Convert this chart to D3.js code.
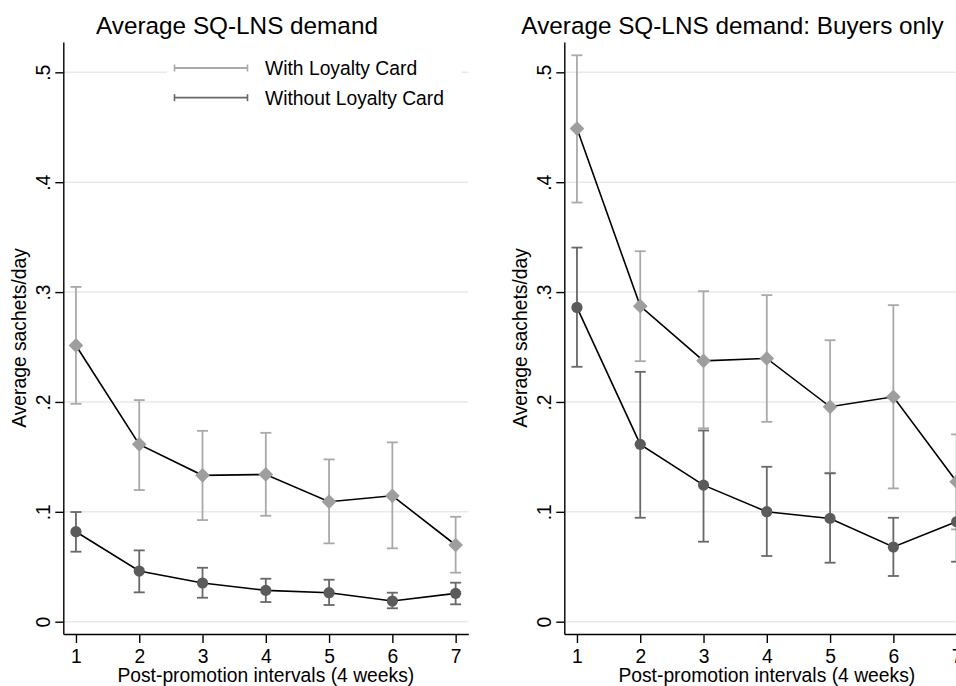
<!DOCTYPE html>
<html>
<head>
<meta charset="utf-8">
<script src="https://cdn.jsdelivr.net/npm/d3@7"></script>
<style>
  body { margin: 0; background: #fff; }
  svg { display: block; }
  text { font-family: "Liberation Sans", Arial, sans-serif; }
</style>
</head>
<body>
<svg id="chart" width="956" height="686"></svg>
<script>
// post-promotion intervals (4 weeks each)
var intervals = [1, 2, 3, 4, 5, 6, 7];
var yTicks = [0, 0.1, 0.2, 0.3, 0.4, 0.5];
var yTickLabels = ['0', '.1', '.2', '.3', '.4', '.5'];
var legendLabels = ['With Loyalty Card', 'Without Loyalty Card'];

// left panel: all households
var allWithMean = [0.2514, 0.1614, 0.1332, 0.1340, 0.1092, 0.1146, 0.0698];
var allWithLo   = [0.1983, 0.1198, 0.0925, 0.0964, 0.0713, 0.0668, 0.0446];
var allWithHi   = [0.3047, 0.2017, 0.1737, 0.1719, 0.1477, 0.1632, 0.0955];
var allWithoutMean = [0.0819, 0.0461, 0.0352, 0.0285, 0.0264, 0.0188, 0.0258];
var allWithoutLo   = [0.0637, 0.0267, 0.0218, 0.0179, 0.0152, 0.0122, 0.0158];
var allWithoutHi   = [0.0998, 0.0649, 0.0491, 0.0391, 0.0382, 0.0264, 0.0355];

// right panel: buyers only
var buyWithMean = [0.4488, 0.2872, 0.2374, 0.2396, 0.1956, 0.2047, 0.1274];
var buyWithLo   = [0.3815, 0.2371, 0.1760, 0.1819, 0.1355, 0.1213, 0.0840];
var buyWithHi   = [0.5155, 0.3372, 0.3008, 0.2972, 0.2562, 0.2881, 0.1705];
var buyWithoutMean = [0.2860, 0.1614, 0.1243, 0.1001, 0.0940, 0.0680, 0.0910];
var buyWithoutLo   = [0.2320, 0.0946, 0.0728, 0.0598, 0.0537, 0.0416, 0.0546];
var buyWithoutHi   = [0.3405, 0.2274, 0.1740, 0.1410, 0.1350, 0.0946, 0.1274];

var withBar = '#a9a9a9', withMark = '#9e9e9e';
var withoutBar = '#686868', withoutMark = '#5b5b5b';
var fs = 19.3;

var svg = d3.select('#chart');

function series(mean, lo, hi) {
    return intervals.map(function (t, i) {
        return {x: t, y: mean[i], lo: lo[i], hi: hi[i]};
    });
}

function drawPanel(offsetX, title, titleX, withData, withoutData, showLegend) {
    var g = svg.append('g').attr('transform', 'translate(' + offsetX + ',0)');

    var x = d3.scaleLinear().domain([0.8, 7.2]).range([63.3, 468.3]);
    var y = d3.scaleLinear().domain([-0.0112, 0.5276]).range([634, 42]);

    // grid
    g.append('g').selectAll('line')
        .data(yTicks)
        .enter().append('line')
        .attr('x1', x.range()[0]).attr('x2', x.range()[1])
        .attr('y1', function (d) { return y(d); })
        .attr('y2', function (d) { return y(d); })
        .attr('stroke', '#e9e9e9')
        .attr('stroke-width', 1.5);

    // axes
    var yAxis = g.append('g')
        .attr('transform', 'translate(' + x.range()[0] + ',0)')
        .call(d3.axisLeft(y).tickValues(yTicks).tickSize(8).tickSizeOuter(0)
            .tickFormat(function (d, i) { return yTickLabels[i]; }));
    yAxis.selectAll('text')
        .attr('x', null).attr('dy', null)
        .attr('text-anchor', 'middle')
        .attr('transform', 'translate(-13.3,0) rotate(-90)');

    var xAxis = g.append('g')
        .attr('transform', 'translate(0,' + y.range()[0] + ')')
        .call(d3.axisBottom(x).tickValues(intervals).tickSize(9).tickPadding(6.3).tickSizeOuter(0)
            .tickFormat(d3.format('d')));

    [yAxis, xAxis].forEach(function (a) {
        a.attr('font-family', null).attr('font-size', fs);
        a.selectAll('text').attr('fill', '#000');
        a.selectAll('line, path').attr('stroke', '#000').attr('stroke-width', 1.4);
    });

    // axis titles
    g.append('text')
        .attr('x', x(4)).attr('y', 682)
        .attr('text-anchor', 'middle')
        .attr('font-size', fs)
        .text('Post-promotion intervals (4 weeks)');
    g.append('text')
        .attr('transform', 'translate(26,' + ((y.range()[0] + y.range()[1]) / 2) + ') rotate(-90)')
        .attr('text-anchor', 'middle')
        .attr('font-size', fs)
        .text('Average sachets/day');

    svg.append('text')
        .attr('x', titleX).attr('y', 34)
        .attr('text-anchor', 'middle')
        .attr('font-size', 24.3)
        .text(title);

    // error bars
    function bars(data, color) {
        var b = g.append('g').attr('stroke', color).attr('stroke-width', 1.8).attr('fill', 'none');
        var cap = 5.5;
        var e = b.selectAll('g').data(data).enter().append('g');
        e.append('line')
            .attr('x1', function (d) { return x(d.x); })
            .attr('x2', function (d) { return x(d.x); })
            .attr('y1', function (d) { return y(d.lo); })
            .attr('y2', function (d) { return y(d.hi); });
        e.append('line')
            .attr('x1', function (d) { return x(d.x) - cap; })
            .attr('x2', function (d) { return x(d.x) + cap; })
            .attr('y1', function (d) { return y(d.lo); })
            .attr('y2', function (d) { return y(d.lo); });
        e.append('line')
            .attr('x1', function (d) { return x(d.x) - cap; })
            .attr('x2', function (d) { return x(d.x) + cap; })
            .attr('y1', function (d) { return y(d.hi); })
            .attr('y2', function (d) { return y(d.hi); });
    }
    bars(withData, withBar);
    bars(withoutData, withoutBar);

    var line = d3.line()
        .x(function (d) { return x(d.x); })
        .y(function (d) { return y(d.y); });

    [withData, withoutData].forEach(function (data) {
        g.append('path')
            .datum(data)
            .attr('d', line)
            .attr('fill', 'none')
            .attr('stroke', '#000')
            .attr('stroke-width', 1.6);
    });

    g.append('g').selectAll('path')
        .data(withData)
        .enter().append('path')
        .attr('d', d3.symbol().type(d3.symbolSquare).size(108))
        .attr('transform', function (d) {
            return 'translate(' + x(d.x) + ',' + y(d.y) + ') rotate(45)';
        })
        .attr('fill', withMark);

    g.append('g').selectAll('circle')
        .data(withoutData)
        .enter().append('circle')
        .attr('cx', function (d) { return x(d.x); })
        .attr('cy', function (d) { return y(d.y); })
        .attr('r', 5.6)
        .attr('fill', withoutMark);

    if (showLegend) {
        var lg = g.append('g');
        lg.append('rect')
            .attr('x', 167).attr('y', 50).attr('width', 295).attr('height', 64)
            .attr('fill', '#fff');
        var rows = lg.selectAll('g.row')
            .data(legendLabels)
            .enter().append('g')
            .attr('class', 'row')
            .attr('transform', function (d, i) { return 'translate(0,' + (68 + i * 29.7) + ')'; });
        rows.each(function (d, i) {
            var r = d3.select(this);
            var c = i === 0 ? withBar : withoutBar;
            r.append('line').attr('x1', 174).attr('x2', 248).attr('y1', 0).attr('y2', 0)
                .attr('stroke', c).attr('stroke-width', 1.8);
            r.append('line').attr('x1', 174.5).attr('x2', 174.5).attr('y1', -3.5).attr('y2', 3.5)
                .attr('stroke', c).attr('stroke-width', 1.6);
            r.append('line').attr('x1', 247.5).attr('x2', 247.5).attr('y1', -3.5).attr('y2', 3.5)
                .attr('stroke', c).attr('stroke-width', 1.6);
            r.append('text').attr('x', 265).attr('y', 7)
                .attr('font-size', fs)
                .text(d);
        });
    }
}

drawPanel(0, 'Average SQ-LNS demand', 237,
    series(allWithMean, allWithLo, allWithHi),
    series(allWithoutMean, allWithoutLo, allWithoutHi), true);

drawPanel(501, 'Average SQ-LNS demand: Buyers only', 732.5,
    series(buyWithMean, buyWithLo, buyWithHi),
    series(buyWithoutMean, buyWithoutLo, buyWithoutHi), false);
</script>
</body>
</html>
